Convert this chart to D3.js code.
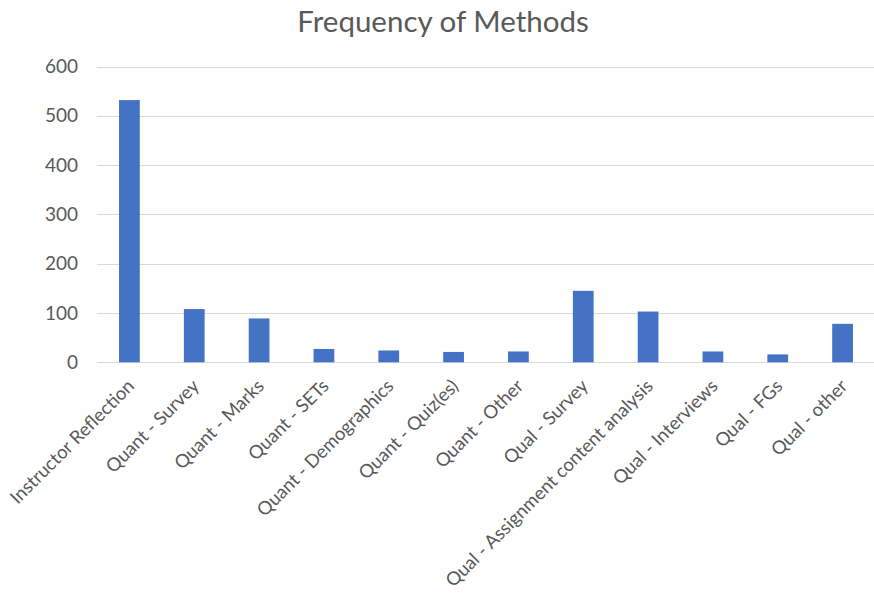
<!DOCTYPE html>
<html>
<head>
<meta charset="utf-8">
<script src="https://cdn.jsdelivr.net/npm/d3@7"></script>
<style>
  body { margin: 0; background: #fff; }
  text { font-family: Lato, "Open Sans", sans-serif; fill: #595959; }
</style>
</head>
<body>
<div id="chart"></div>
<script>
// data
var categories = [
  "Instructor Reflection", "Quant - Survey", "Quant - Marks", "Quant - SETs",
  "Quant - Demographics", "Quant - Quiz(es)", "Quant - Other", "Qual - Survey",
  "Qual - Assignment content analysis", "Qual - Interviews", "Qual - FGs", "Qual - other"
];
var counts = [532, 108, 89, 27, 24, 21, 22, 145, 103, 22, 16, 78];
var yTicks = [0, 100, 200, 300, 400, 500, 600];

var data = categories.map(function(c, i) { return {method: c, n: counts[i]}; });

var width = 874, height = 596;
var plot = {left: 97, right: 875, top: 66.6, bottom: 362.3};

var svg = d3.select("#chart")
  .append("svg")
    .attr("width", width)
    .attr("height", height);

// title
svg.append("text")
  .attr("x", 443)
  .attr("y", 32)
  .attr("text-anchor", "middle")
  .style("font-size", "29.5px")
  .text("Frequency of Methods");

var x = d3.scaleBand()
  .domain(categories)
  .range([plot.left, plot.right])
  .paddingInner(0.68)
  .paddingOuter(0.34);

var y = d3.scaleLinear()
  .domain([0, 600])
  .range([plot.bottom, plot.top]);

// gridlines
svg.append("g")
  .selectAll("line")
  .data(yTicks)
  .enter()
  .append("line")
    .attr("x1", plot.left)
    .attr("x2", plot.right - 1)
    .attr("y1", function(d) { return Math.round(y(d)) + 0.5; })
    .attr("y2", function(d) { return Math.round(y(d)) + 0.5; })
    .attr("stroke", "#d9d9d9")
    .attr("stroke-width", 1);

// y axis labels
var yAxis = svg.append("g")
  .attr("transform", "translate(" + (plot.left - 19) + ",0)")
  .call(d3.axisLeft(y).tickValues(yTicks).tickSize(0).tickPadding(0));
yAxis.select(".domain").remove();
yAxis.selectAll("text")
  .style("font-size", "19px")
  .attr("fill", "#595959");

// bars
svg.selectAll("rect.bar")
  .data(data)
  .enter()
  .append("rect")
    .attr("class", "bar")
    .attr("x", function(d) { return x(d.method); })
    .attr("y", function(d) { return y(d.n); })
    .attr("width", x.bandwidth())
    .attr("height", function(d) { return y(0) - y(d.n); })
    .attr("fill", "#4472c4");

// x axis labels, rotated
var xAxis = svg.append("g")
  .attr("transform", "translate(0," + plot.bottom + ")")
  .call(d3.axisBottom(x).tickSize(0).tickPadding(0));
xAxis.select(".domain").remove();
xAxis.selectAll("text")
  .style("font-size", "18.5px")
  .attr("fill", "#595959")
  .attr("text-anchor", "end")
  .attr("dy", null)
  .attr("y", 0)
  .attr("transform", "translate(6,25) rotate(-45)");
</script>
</body>
</html>
